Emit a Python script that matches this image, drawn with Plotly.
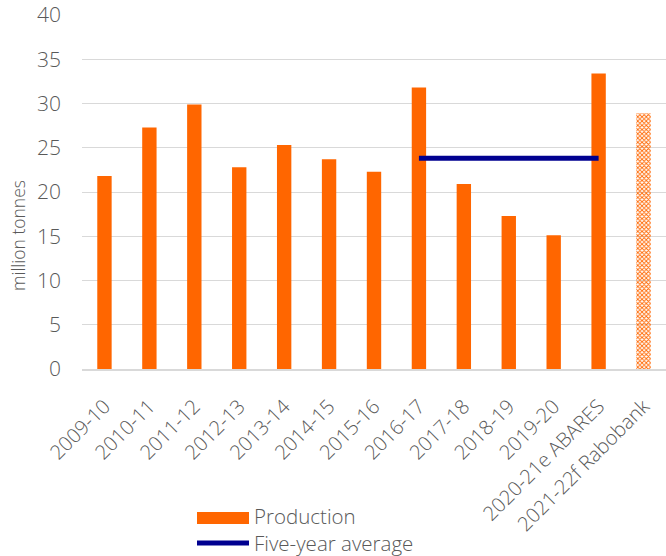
import plotly.graph_objects as go

categories = ["2009-10", "2010-11", "2011-12", "2012-13", "2013-14", "2014-15", "2015-16",
              "2016-17", "2017-18", "2018-19", "2019-20", "2020-21e ABARES", "2021-22f Rabobank"]
production = [21.8, 27.3, 29.9, 22.8, 25.3, 23.7, 22.3, 31.8, 20.9, 17.3, 15.1, 33.4, 28.9]
avg_categories = ["2016-17", "2017-18", "2018-19", "2019-20", "2020-21e ABARES"]
avg_values = [23.8, 23.8, 23.8, 23.8, 23.8]
legend_labels = ["Production", "Five-year average"]

ORANGE = "#FF6600"
NAVY = "#000090"
TXT = "#595959"
FONT = "Open Sans"

patterns = [""] * (len(categories) - 1) + ["x"]

fig = go.Figure()
fig.add_trace(go.Bar(
    x=categories, y=production, name=legend_labels[0], showlegend=False,
    marker=dict(color=ORANGE, line=dict(width=0),
                pattern=dict(shape=patterns, size=3, solidity=0.5, fillmode="replace")),
))
fig.add_trace(go.Scatter(
    x=avg_categories, y=avg_values, name=legend_labels[1], mode="lines", showlegend=False,
    line=dict(color=NAVY, width=5),
))

# custom legend (paper coordinates)
W, H = 666, 556
L, R, T, B = 82, 0, 15, 187
pw, ph = W - L - R, H - T - B


def px_x(x):
    return (x - L) / pw


def px_y(y):
    return (H - B - y) / ph


shapes = [
    dict(type="rect", xref="paper", yref="paper", x0=px_x(197), x1=px_x(249),
         y0=px_y(524), y1=px_y(512), fillcolor=ORANGE, line=dict(width=0)),
    dict(type="line", xref="paper", yref="paper", x0=px_x(197), x1=px_x(249),
         y0=px_y(543), y1=px_y(543), line=dict(color=NAVY, width=5)),
]
annotations = [
    dict(text=legend_labels[0], xref="paper", yref="paper", x=px_x(252), y=px_y(516),
         xanchor="left", yanchor="middle", showarrow=False,
         font=dict(family=FONT, size=20.5, color=TXT, weight=300)),
    dict(text=legend_labels[1], xref="paper", yref="paper", x=px_x(252), y=px_y(543),
         xanchor="left", yanchor="middle", showarrow=False,
         font=dict(family=FONT, size=20.5, color=TXT, weight=300)),
    dict(text="million tonnes", xref="paper", yref="paper", x=px_x(18), y=px_y(236),
         xanchor="center", yanchor="middle", textangle=-90, showarrow=False,
         font=dict(family=FONT, size=17.5, color=TXT, weight=300)),
]

fig.update_layout(
    width=W, height=H,
    margin=dict(l=L, r=R, t=T, b=B),
    paper_bgcolor="white", plot_bgcolor="white",
    bargap=0.68,
    font=dict(family=FONT, color=TXT, size=17, weight=300),
    showlegend=False,
    shapes=shapes,
    annotations=annotations,
    xaxis=dict(type="category", tickangle=-45, showline=True, linecolor="#d9d9d9", linewidth=1.5,
               tickfont=dict(size=20, color=TXT, weight=300), showgrid=False, ticks="",
               ticklabelstandoff=16, automargin=False),
    yaxis=dict(range=[0, 40], dtick=5, showgrid=True, gridcolor="#d9d9d9", gridwidth=1,
               zeroline=False, tickfont=dict(size=21, color=TXT, weight=300),
               ticklabelstandoff=20, automargin=False),
)

fig.write_html("out.html")
